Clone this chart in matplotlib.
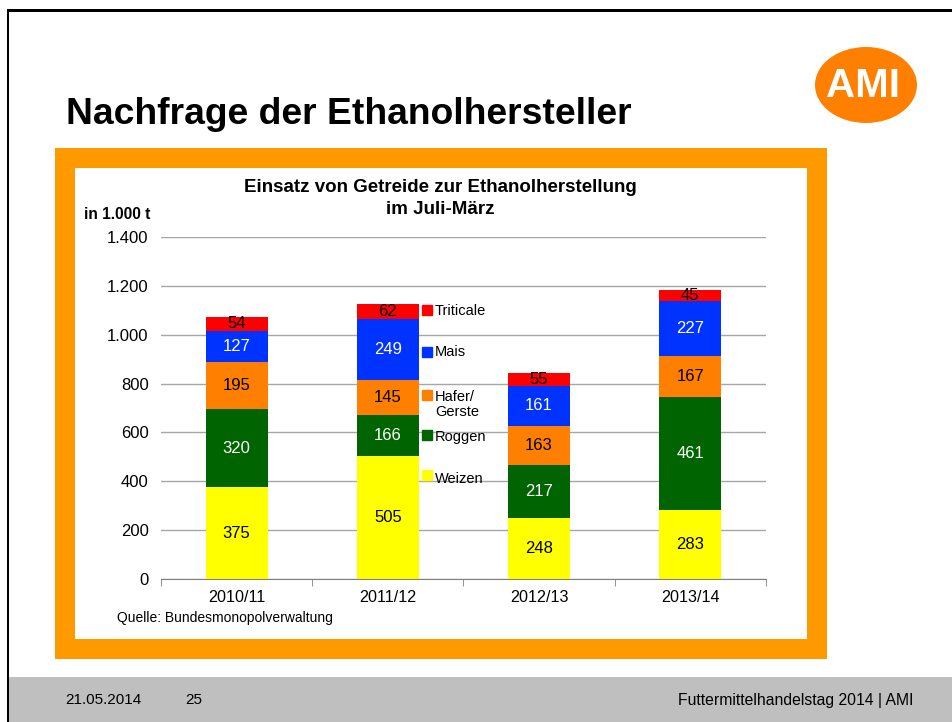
import numpy as np
import matplotlib.pyplot as plt
from matplotlib.patches import Rectangle, Ellipse

plt.rcParams['font.family'] = ['Liberation Sans', 'DejaVu Sans']

# data, in 1.000 t
years = ['2010/11', '2011/12', '2012/13', '2013/14']
weizen = [375, 505, 248, 283]
roggen = [320, 166, 217, 461]
hafer = [195, 145, 163, 167]
mais = [127, 249, 161, 227]
triticale = [54, 62, 55, 45]

series = [
    ('Weizen', weizen, '#FFFF00', 'black'),
    ('Roggen', roggen, '#006400', 'white'),
    ('Hafer/\nGerste', hafer, '#FF7F00', 'black'),
    ('Mais', mais, '#0033FF', 'white'),
    ('Triticale', triticale, '#FF0000', 'black'),
]

fig = plt.figure(figsize=(9.53, 7.22), dpi=100)

W, H = 953, 722


def px(x, y, w, h):
    # pixel box (top-left origin) -> figure fraction
    return (x / W, 1 - (y + h) / H, w / W, h / H)


def rect(x, y, w, h, color):
    l, b, ww, hh = px(x, y, w, h)
    fig.patches.append(Rectangle((l, b), ww, hh, transform=fig.transFigure,
                                 facecolor=color, edgecolor='none', zorder=0))


# slide frame
rect(7, 9, 946, 3, 'black')
rect(7, 9, 2, 713, 'black')
# footer band
rect(9, 677, 944, 45, '#BFBFBF')
# orange chart frame
rect(55, 148, 772, 511, '#FF9900')
rect(75, 168, 732, 471, 'white')

# AMI logo
fig.patches.append(Ellipse((866 / W, 1 - 85 / H), 102 / W, 76 / H,
                           transform=fig.transFigure, facecolor='#FF8000',
                           edgecolor='none', zorder=1))
fig.text(863 / W, 1 - 86 / H, 'AMI', color='white', fontsize=29,
         fontweight='bold', ha='center', va='center', zorder=2)

fig.text(66 / W, 1 - 115 / H, 'Nachfrage der Ethanolhersteller',
         fontsize=26.8, fontweight='bold', va='center', ha='left')

# footer texts
fig.text(65 / W, 1 - 700 / H, '21.05.2014', fontsize=11, va='center')
fig.text(185 / W, 1 - 700 / H, '25', fontsize=11, va='center')
fig.text(913 / W, 1 - 700 / H, 'Futtermittelhandelstag 2014 | AMI', fontsize=11.3,
         va='center', ha='right')

# chart
ax = fig.add_axes([161 / W, 1 - 579 / H, 605 / W, 342 / H])
ax.set_zorder(5)
x = np.arange(len(years))
bottom = np.zeros(len(years))
for name, vals, col, tcol in series:
    vals = np.array(vals)
    ax.bar(x, vals, 0.41, bottom=bottom, color=col, edgecolor='none', zorder=2)
    for xi, b, v in zip(x, bottom, vals):
        ax.text(xi, b + v / 2, str(v), ha='center', va='center',
                fontsize=12, color=tcol, zorder=3)
    bottom += vals

ax.set_xlim(-0.5, len(years) - 0.5)
ax.set_ylim(0, 1400)
ax.set_yticks(np.arange(0, 1401, 200))
ax.set_yticklabels([f'{v:,}'.replace(',', '.') for v in range(0, 1401, 200)], fontsize=12)
ax.yaxis.grid(True, color='#A6A6A6', linewidth=1)
ax.set_axisbelow(True)
ax.set_xticks(x)
ax.set_xticklabels(years, fontsize=11.6)
ax.set_xticks(np.arange(-0.5, len(years)), minor=True)
ax.tick_params(axis='x', which='major', length=0, pad=8)
ax.tick_params(axis='x', which='minor', length=5, color='#808080', direction='out')
ax.tick_params(axis='y', length=0, pad=9)
for s in ['top', 'right', 'left']:
    ax.spines[s].set_visible(False)
ax.spines['bottom'].set_color('#808080')
ax.set_facecolor('none')

# legend next to the 2011/12 bar (marker y, text y)
leg_y = {'Weizen': (425, 410), 'Roggen': (588, 583), 'Hafer/\nGerste': (755, 714),
         'Mais': (930, 930), 'Triticale': (1100, 1098)}
for name, vals, col, tcol in series:
    my, ty = leg_y[name]
    ax.plot([1.26], [my], marker='s', markersize=6.5, color=col,
            linestyle='none', zorder=3, clip_on=False)
    ax.text(1.31, ty, name, fontsize=10.5, va='center', ha='left',
            linespacing=1.05, zorder=3)

fig.text(440 / W, 1 - 188 / H, 'Einsatz von Getreide zur Ethanolherstellung',
         fontsize=13.5, fontweight='bold', ha='center', va='center')
fig.text(440 / W, 1 - 209 / H, 'im Juli-März',
         fontsize=13.5, fontweight='bold', ha='center', va='center')
fig.text(150 / W, 1 - 214 / H, 'in 1.000 t', fontsize=11.2, fontweight='bold',
         ha='right', va='center')
fig.text(117 / W, 1 - 618 / H, 'Quelle: Bundesmonopolverwaltung', fontsize=10,
         ha='left', va='center')

fig.savefig('out.png', dpi=100)
